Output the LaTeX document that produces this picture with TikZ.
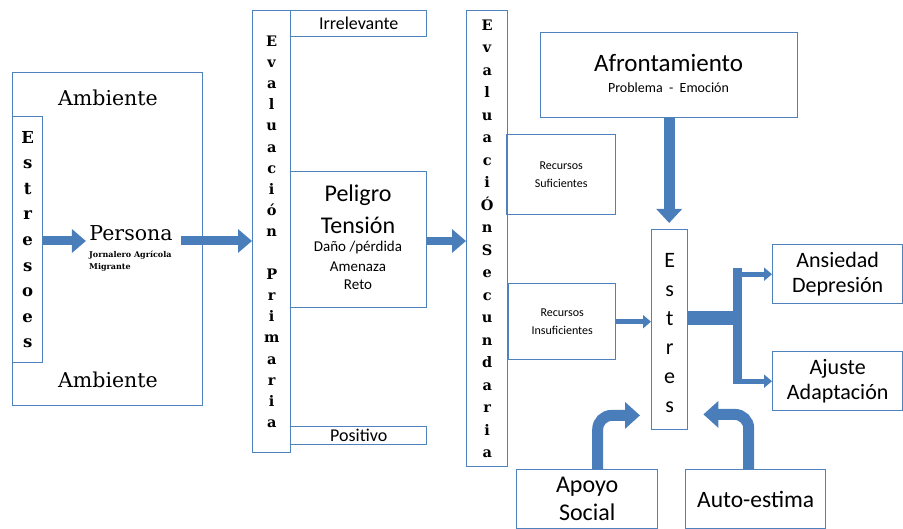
\documentclass[tikz,border=0pt]{standalone}
\usepackage{fontspec}
\setmainfont{Carlito}
\newfontfamily\seriffont{DejaVu Serif}
\usepackage{xcolor}
\usetikzlibrary{arrows.meta,calc}
\definecolor{boxblue}{HTML}{4F81BD}
\definecolor{arrowblue}{HTML}{4A7EBB}

\begin{document}
\begin{tikzpicture}[x=1pt, y=-1pt,
    box/.style={draw=boxblue, line width=1.4pt, inner sep=0pt, anchor=north west, align=center},
    vtext/.style={inner sep=0pt, align=center},
    sertext/.style={font=\seriffont\fontsize{20.5}{24}\selectfont},
    bigarrow/.style={-{Triangle[width=23pt,length=14pt]}, line width=9pt, arrowblue},
    smallarrow/.style={-{Triangle[width=13pt,length=8pt]}, line width=5pt, arrowblue},
    bentarrow/.style={-{Triangle[width=26pt,length=15pt]}, line width=11pt, arrowblue, rounded corners=14pt},
]
    \useasboundingbox (0,0) rectangle (903,529);

    % Ambiente y persona
    \node[box, minimum width=190pt, minimum height=333pt] (amb) at (12,72) {};
    \node[box, minimum width=30pt, minimum height=246pt] (estresoes) at (12,116) {};
    \node[vtext, font=\seriffont\bfseries\fontsize{16.5}{25.6}\selectfont] (estresoestxt) at (estresoes.center) {E\\s\\t\\r\\e\\s\\o\\e\\s};
    \node[sertext] (ambtop) at (108,98) {Ambiente};
    \node[sertext] (ambbot) at (108,380) {Ambiente};
    \node[sertext] (persona) at (131,233) {Persona};
    \node[font=\seriffont\bfseries\fontsize{8}{12}\selectfont, align=left, anchor=north west, inner sep=0pt] (jornalero) at (89,251) {Jornalero Agrícola\\Migrante};

    % Evaluacion primaria
    \node[box, minimum width=38pt, minimum height=442pt] (evalp) at (252,10) {};
    \node[vtext, font=\seriffont\bfseries\fontsize{14.5}{21.2}\selectfont] (evalptxt) at (evalp.center) {E\\v\\a\\l\\u\\a\\c\\i\\ó\\n\\\strut\\P\\r\\i\\m\\a\\r\\i\\a};
    \node[box, minimum width=136pt, minimum height=26pt, font=\fontsize{18}{20}\selectfont] (irrel) at (290,10) {Irrelevante};
    \node[box, minimum width=136pt, minimum height=136pt] (peligro) at (290,171) {};
    \node[font=\fontsize{24}{28}\selectfont] (peligrotxt) at (358,195) {Peligro};
    \node[font=\fontsize{24}{28}\selectfont] (tensiontxt) at (358,225) {Tensión};
    \node[font=\fontsize{15}{18}\selectfont] (danotxt) at (358,248) {Daño /pérdida};
    \node[font=\fontsize{15}{18}\selectfont] (amenazatxt) at (358,267) {Amenaza};
    \node[font=\fontsize{15}{18}\selectfont] (retotxt) at (358,285) {Reto};
    \node[box, minimum width=136pt, minimum height=18pt, font=\fontsize{18}{20}\selectfont] (positivo) at (290,426) {Positivo};

    % Evaluacion secundaria
    \node[box, minimum width=41pt, minimum height=456pt] (evals) at (466,10) {};
    \node[vtext, font=\seriffont\bfseries\fontsize{14.5}{22.5}\selectfont] (evalstxt) at (evals.center) {E\\v\\a\\l\\u\\a\\c\\i\\Ó\\n\\S\\e\\c\\u\\n\\d\\a\\r\\i\\a};
    \node[box, minimum width=109pt, minimum height=80pt, font=\fontsize{12}{18}\selectfont] (rsuf) at (506,134) {Recursos\\Suficientes};
    \node[box, minimum width=107pt, minimum height=76pt, font=\fontsize{12}{18}\selectfont] (rinsuf) at (508,283) {Recursos\\Insuficientes};

    % Afrontamiento y estres
    \node[box, minimum width=257pt, minimum height=85pt] (afront) at (540,32) {};
    \node[font=\fontsize{25}{30}\selectfont] (afronttxt) at (668.5,63) {Afrontamiento};
    \node[font=\fontsize{14}{16}\selectfont] (copingtxt) at (668.5,88) {Problema \ - \ Emoción};
    \node[box, minimum width=36pt, minimum height=200pt] (estres) at (651,229) {};
    \node[vtext, font=\fontsize{22}{29}\selectfont] (estrestxt) at ([yshift=-3pt]estres.center) {E\\s\\t\\r\\e\\s};

    % Resultados y moderadores
    \node[box, minimum width=130pt, minimum height=59pt, font=\fontsize{22}{25}\selectfont] (ansiedad) at (772,244) {Ansiedad\\Depresión};
    \node[box, minimum width=130pt, minimum height=59pt, font=\fontsize{22}{25}\selectfont] (ajuste) at (772,351) {Ajuste\\Adaptación};
    \node[box, minimum width=141pt, minimum height=59pt, font=\fontsize{24}{28}\selectfont] (apoyo) at (516,469) {Apoyo\\Social};
    \node[box, minimum width=140pt, minimum height=59pt, font=\fontsize{23.5}{28}\selectfont] (autoest) at (685,469) {Auto-estima};

    % Flechas
    \coordinate (flow) at (0,241);
    \coordinate (fork) at (737.5,318);
    \draw[bigarrow] (estresoes.east |- flow) -- (persona.west |- flow);
    \draw[bigarrow] ($(persona.east |- flow)+(5,0)$) -- (evalp.west |- flow);
    \draw[bigarrow, line width=8pt] (peligro.east |- flow) -- (evals.west |- flow);
    \draw[bigarrow, -{Triangle[width=25pt,length=14pt]}, line width=11pt] (afront.south) -- ($(estres.north -| afront.south)+(0,-6)$);
    \draw[smallarrow] (rinsuf.east) -- (estres.west |- rinsuf.east);
    \draw[arrowblue, line width=14pt] (estres.east |- fork) -- (fork);
    \draw[arrowblue, line width=9pt] ($(fork |- ansiedad.west)+(0,-6.5)$) -- ($(fork |- ajuste.west)+(0,2.5)$);
    \draw[smallarrow] ($(fork |- ansiedad.west)+(4,0)$) -- (ansiedad.west);
    \draw[smallarrow] ($(fork |- ajuste.west)+(4,0)$) -- (ajuste.west);
    \draw[bentarrow] ([xshift=10.5pt]apoyo.north) |- ([xshift=-11pt,yshift=15pt]estres.south west);
    \draw[bentarrow] ([xshift=-7pt]autoest.north) |- ([xshift=15pt,yshift=16pt]estres.south east);

\end{tikzpicture}
\end{document}
